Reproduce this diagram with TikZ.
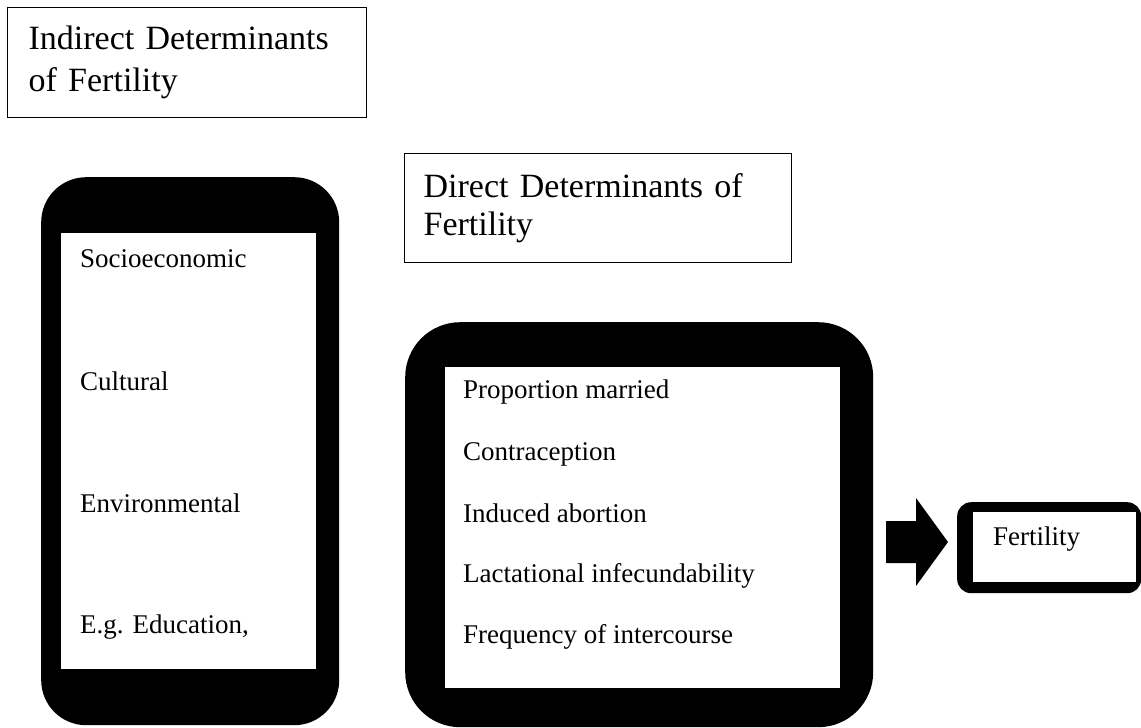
\documentclass[tikz,border=0pt]{standalone}
\usepackage{fontspec}
\setmainfont{Liberation Serif}
\usetikzlibrary{calc}
\begin{document}
\begin{tikzpicture}[x=1pt,y=-1pt,
  titlebox/.style={draw=black, line width=1.2pt, anchor=north west, align=left,
    inner ysep=0pt, font=\fontsize{34}{42}\selectfont},
  frame/.style={fill=black, rounded corners=#1, inner sep=0pt, anchor=north west},
  innerbox/.style={fill=white, inner sep=0pt, anchor=north west},
  lbl/.style={anchor=base west, inner sep=0pt, font=\fontsize{27}{32}\selectfont},
  arrowfill/.style={fill=black}
]
\useasboundingbox (0,0) rectangle (1141,728);

% title boxes
\node[titlebox, inner xsep=21pt, text width=317pt, minimum height=110pt] (ind) at (7,7)
  {Indirect Determinants\\of Fertility};
\node[titlebox, inner xsep=19pt, text width=349pt, minimum height=109pt,
  font=\fontsize{34}{38}\selectfont] (dir) at (404,153)
  {Direct Determinants of\\Fertility};

% indirect frame
\node[frame=45pt, minimum width=298pt, minimum height=548pt] (indframe) at (41,177) {};
\node[innerbox, minimum width=255pt, minimum height=436pt] (indinner) at (61,233) {};
\node[lbl] (socio) at (80,267) {Socioeconomic};
\node[lbl] (cult) at (80,390) {Cultural};
\node[lbl] (env) at (80,512) {Environmental};
\node[lbl] (edu) at (80,633) {E.g. Education,};

% direct frame
\node[frame=55pt, minimum width=468pt, minimum height=405pt] (midframe) at (405,322) {};
\node[innerbox, minimum width=395pt, minimum height=321pt] (midinner) at (445,367) {};
\node[lbl] (pm) at (463,398) {Proportion married};
\node[lbl] (contra) at (463,460) {Contraception};
\node[lbl] (abort) at (463,522) {Induced abortion};
\node[lbl] (lact) at (463,582) {Lactational infecundability};
\node[lbl] (freq) at (463,643) {Frequency of intercourse};

% fertility frame
\node[frame=14pt, minimum width=184pt, minimum height=91pt] (fertframe) at (957,502) {};
\node[innerbox, minimum width=163pt, minimum height=70pt] (fertinner) at (973,512) {};
\node[lbl] (fert) at (993,545) {Fertility};

% block arrow
\coordinate (atail) at ($(midframe.east)+(13pt,0)$);
\coordinate (atail) at (886,542);
\coordinate (atip) at (948,542);
\fill[arrowfill] ($(atail)+(0,-21)$) -- ($(atail)+(30,-21)$) -- ($(atail)+(30,-44)$)
  -- (atip) -- ($(atail)+(30,44)$) -- ($(atail)+(30,21)$) -- ($(atail)+(0,21)$) -- cycle;
\end{tikzpicture}
\end{document}
